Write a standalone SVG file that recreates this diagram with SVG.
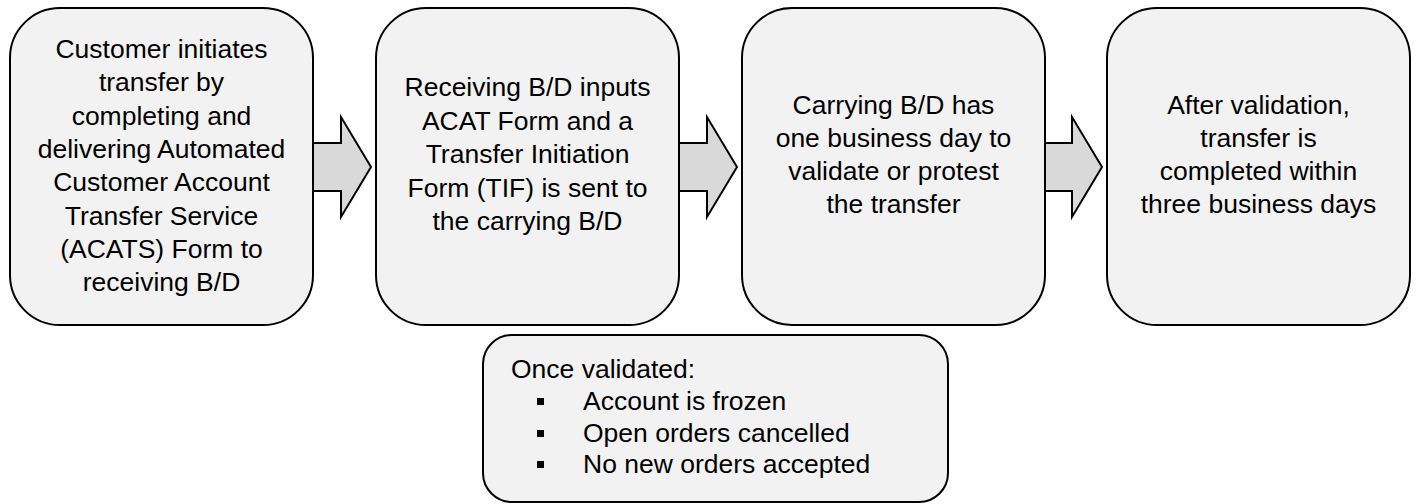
<svg xmlns="http://www.w3.org/2000/svg" width="1416" height="504" viewBox="0 0 1416 504">
<style>
.box{fill:#f2f2f2;stroke:#000;stroke-width:2}
.arr{fill:#d9d9d9;stroke:#000;stroke-width:2;stroke-linejoin:miter}
text{font-family:"Liberation Sans",Arial,sans-serif;font-size:26.5px;fill:#000}
.c{text-anchor:middle}
.bul{fill:#000}
</style>
<rect width="1416" height="504" fill="#fff"/>
<g id="connectors">
<path class="arr" d="M313,143 H341 V117 L371,167 L341,217 V191 H313 Z"/>
<path class="arr" d="M679,143 H707 V117 L737,167 L707,217 V191 H679 Z"/>
<path class="arr" d="M1044,143 H1072 V117 L1102,167 L1072,217 V191 H1044 Z"/>
</g>
<g id="node1">
<rect class="box" x="10" y="8" width="303" height="317" rx="50"/>
<text class="c" x="161.5" y="58">Customer initiates</text>
<text class="c" x="161.5" y="91.3">transfer by</text>
<text class="c" x="161.5" y="124.6">completing and</text>
<text class="c" x="161.5" y="158">delivering Automated</text>
<text class="c" x="161.5" y="191.3">Customer Account</text>
<text class="c" x="161.5" y="224.6">Transfer Service</text>
<text class="c" x="161.5" y="258">(ACATS) Form to</text>
<text class="c" x="161.5" y="291.3">receiving B/D</text>
</g>
<g id="node2">
<rect class="box" x="376" y="8" width="303" height="317" rx="50"/>
<text class="c" x="527.5" y="96">Receiving B/D inputs</text>
<text class="c" x="527.5" y="129.5">ACAT Form and a</text>
<text class="c" x="527.5" y="163">Transfer Initiation</text>
<text class="c" x="527.5" y="196.5">Form (TIF) is sent to</text>
<text class="c" x="527.5" y="229.5">the carrying B/D</text>
</g>
<g id="node3">
<rect class="box" x="742" y="8" width="303" height="317" rx="50"/>
<text class="c" x="893.5" y="114">Carrying B/D has</text>
<text class="c" x="893.5" y="147">one business day to</text>
<text class="c" x="893.5" y="180">validate or protest</text>
<text class="c" x="893.5" y="213">the transfer</text>
</g>
<g id="node4">
<rect class="box" x="1107" y="8" width="303" height="317" rx="50"/>
<text class="c" x="1258.5" y="114">After validation,</text>
<text class="c" x="1258.5" y="147">transfer is</text>
<text class="c" x="1258.5" y="180">completed within</text>
<text class="c" x="1258.5" y="213">three business days</text>
</g>
<g id="node5">
<rect class="box" x="483" y="335" width="465" height="167" rx="29"/>
<text x="511" y="378">Once validated:</text>
<rect class="bul" x="537" y="398" width="7" height="7"/>
<text x="583" y="410">Account is frozen</text>
<rect class="bul" x="537" y="430" width="7" height="7"/>
<text x="583" y="442">Open orders cancelled</text>
<rect class="bul" x="537" y="461" width="7" height="7"/>
<text x="583" y="473">No new orders accepted</text>
</g>
</svg>
